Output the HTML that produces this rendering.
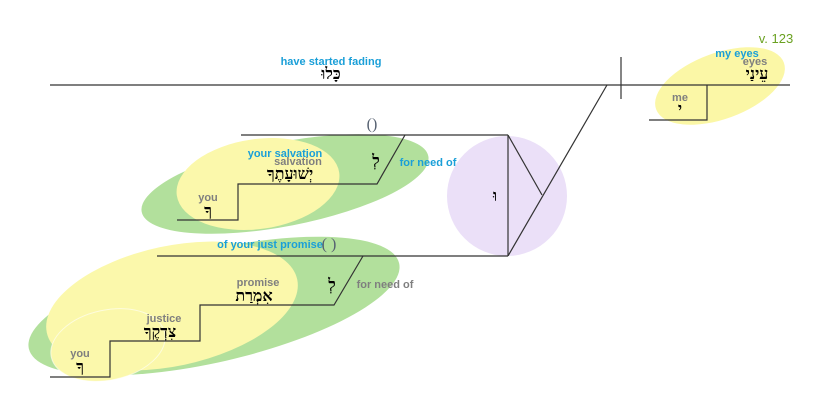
<!DOCTYPE html>
<html><head><meta charset="utf-8"><style>
html,body{margin:0;padding:0;background:#fff;}
svg{display:block;}
.b{fill:#1a9fd8;font:bold 11px "Liberation Sans",sans-serif;}
.g{fill:#7f7f7f;font:bold 11px "Liberation Sans",sans-serif;}
.h{fill:#000;font:bold 16px "Liberation Serif","Noto Serif CJK SC","DejaVu Sans",serif;}
</style></head><body>
<svg width="825" height="411" viewBox="0 0 825 411" xmlns="http://www.w3.org/2000/svg">
<ellipse cx="720" cy="86" rx="68" ry="33" transform="rotate(-20 720 86)" fill="#fbf7a6"/>
<ellipse cx="285" cy="184" rx="146" ry="42" transform="rotate(-11 285 184)" fill="#b2e09c"/>
<ellipse cx="258" cy="184" rx="82" ry="45" transform="rotate(-8 258 184)" fill="#fbf8ab"/>
<ellipse cx="214" cy="306" rx="190" ry="56" transform="rotate(-13 214 306)" fill="#b2e09c"/>
<ellipse cx="172" cy="306" rx="128" ry="60" transform="rotate(-12 172 306)" fill="#fbf8ab"/>
<ellipse cx="108" cy="345" rx="58" ry="35" transform="rotate(-12 108 345)" fill="#fbf8ab" stroke="#fff" stroke-width="1" stroke-opacity="0.6"/>
<ellipse cx="507" cy="196" rx="60" ry="60" fill="#ebe0f8"/>
<g stroke="#333" stroke-width="1.2" fill="none">
<line x1="50" y1="85" x2="790" y2="85"/>
<line x1="621" y1="57" x2="621" y2="99"/>
<polyline points="649,120 707,120 707,85"/>
<line x1="241" y1="135" x2="508" y2="135"/>
<polyline points="177,220 238,220 238,184 377,184 405,135"/>
<line x1="157" y1="256" x2="508" y2="256"/>
<polyline points="50,377 110,377 110,341 200,341 200,305 334,305 363,256"/>
<line x1="508" y1="135" x2="508" y2="256"/>
<line x1="508" y1="135" x2="542" y2="195"/>
<line x1="508" y1="256" x2="607" y2="85"/>
</g>
<text x="331" y="65" text-anchor="middle" class="b">have started fading</text>
<text x="331" y="79" text-anchor="middle" class="h">כָּלוּ</text>
<text x="372" y="129" text-anchor="middle" fill="#556070" font-family="Liberation Serif,serif" font-size="16">()</text>
<text x="285" y="157" text-anchor="middle" class="b">your salvation</text>
<text x="298" y="165" text-anchor="middle" class="g">salvation</text>
<text x="290" y="179" text-anchor="middle" class="h">יְשׁוּעָתֶךָ</text>
<text x="208" y="201" text-anchor="middle" class="g">you</text>
<text x="208" y="216" text-anchor="middle" class="h">ךָ</text>
<text x="376" y="166" text-anchor="middle" class="h" font-size="18">לְ</text>
<text x="428" y="166" text-anchor="middle" class="b">for need of</text>
<text x="495" y="201" text-anchor="middle" class="h">וּ</text>
<text x="270" y="248" text-anchor="middle" class="b">of your just promise</text>
<text x="329" y="249" text-anchor="middle" fill="#556070" font-family="Liberation Serif,serif" font-size="16">( )</text>
<text x="258" y="286" text-anchor="middle" class="g">promise</text>
<text x="254" y="301" text-anchor="middle" class="h">אִמְרַת</text>
<text x="332" y="290" text-anchor="middle" class="h" font-size="18">לְ</text>
<text x="385" y="288" text-anchor="middle" class="g">for need of</text>
<text x="164" y="322" text-anchor="middle" class="g">justice</text>
<text x="160" y="337" text-anchor="middle" class="h">צִדְקֶךָ</text>
<text x="80" y="357" text-anchor="middle" class="g">you</text>
<text x="80" y="372" text-anchor="middle" class="h">ךָ</text>
<text x="776" y="43" text-anchor="middle" fill="#6aa121" font-family="Liberation Sans,sans-serif" font-size="13">v. 123</text>
<text x="737" y="57" text-anchor="middle" class="b">my eyes</text>
<text x="755" y="65" text-anchor="middle" class="g">eyes</text>
<text x="757" y="79" text-anchor="middle" class="h">עֵינַי</text>
<text x="680" y="101" text-anchor="middle" class="g">me</text>
<text x="680" y="114" text-anchor="middle" class="h">י</text>
</svg>
</body></html>
